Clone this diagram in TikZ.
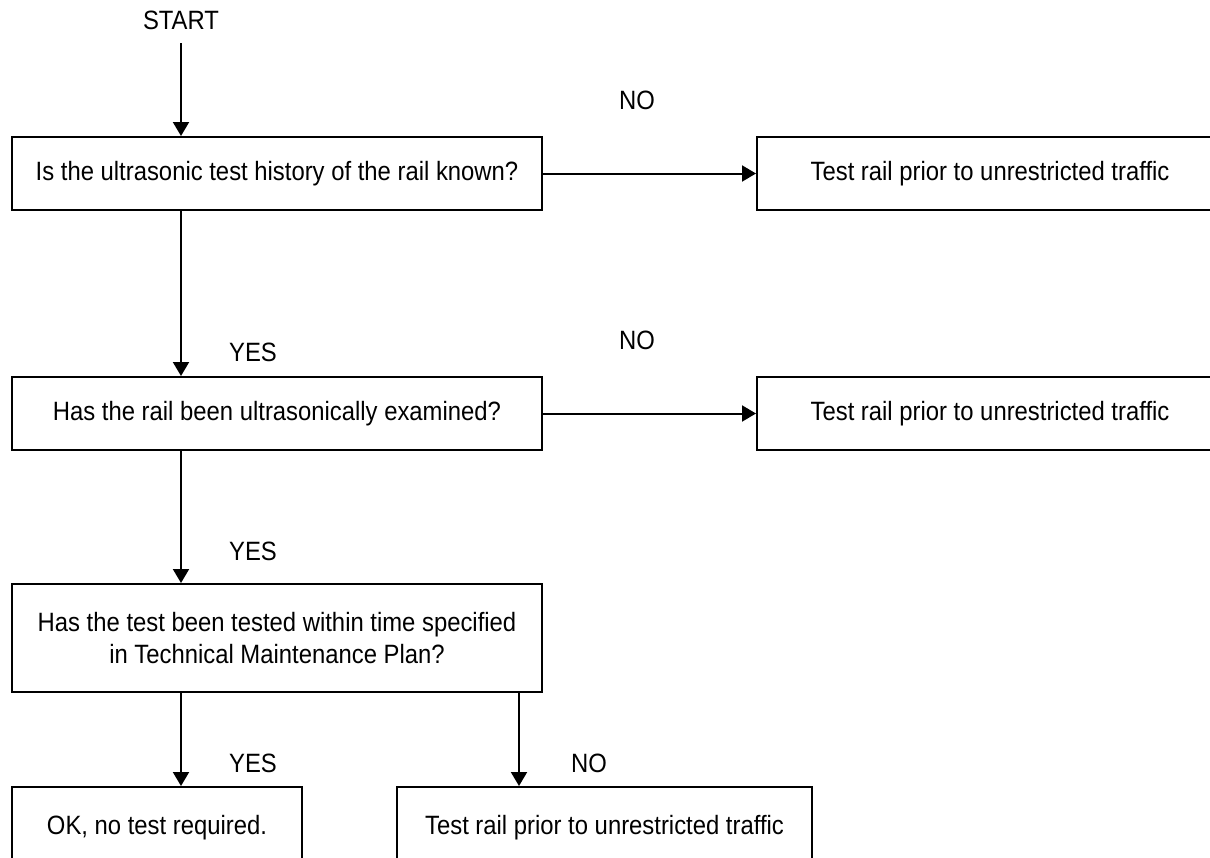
\documentclass[tikz,border=0pt]{standalone}
\usepackage{fontspec}
\setmainfont{Liberation Sans}[FakeStretch=0.9]
\usepackage{tikz}
\usetikzlibrary{arrows.meta}

\begin{document}
\begin{tikzpicture}[x=1pt, y=-1pt, line width=2pt,
  every node/.style = {font=\fontsize{26.5}{32}\selectfont, align=center, inner sep=0pt},
  box/.style = {shape=rectangle, draw, minimum height=73pt},
  arr/.style = {-{Triangle[length=14pt,width=16pt]}}]
  \useasboundingbox (0,0) rectangle (1210,857);
  \node (start) at (181,20) {START};
  \node[box, minimum width=530pt] (known) at (277,173.5) {Is the ultrasonic test history of the rail known?};
  \node[box, minimum width=466pt] (test1) at (990,173.5) {Test rail prior to unrestricted traffic};
  \node[box, minimum width=530pt] (exam) at (277,413.5) {Has the rail been ultrasonically examined?};
  \node[box, minimum width=466pt] (test2) at (990,413.5) {Test rail prior to unrestricted traffic};
  \node[box, minimum width=530pt, minimum height=108pt] (plan) at (277,638) {Has the test been tested within time specified\\in Technical Maintenance Plan?};
  \node[box, minimum width=290pt, minimum height=82pt] (ok) at (157,828) {OK, no test required.};
  \node[box, minimum width=415pt, minimum height=82pt] (test3) at (604.5,828) {Test rail prior to unrestricted traffic};
  \node (no1) at (637,100) {NO};
  \node (no2) at (637,340) {NO};
  \node (yes1) at (253,352) {YES};
  \node (yes2) at (253,551) {YES};
  \node (yes3) at (253,763) {YES};
  \node (no3) at (589,763) {NO};
  \draw[arr, shorten <=13pt] (start.south) -- (start.south |- known.north);
  \draw[arr] (known.east) -- (test1.west);
  \draw[arr] (known.south -| start) -- (exam.north -| start);
  \draw[arr] (exam.east) -- (test2.west);
  \draw[arr] (exam.south -| start) -- (plan.north -| start);
  \draw[arr] (plan.south -| start) -- (ok.north -| start);
  \draw[arr] ([xshift=-24pt]plan.south east) -- ([xshift=-24pt]plan.south east |- test3.north);
\end{tikzpicture}
\end{document}
